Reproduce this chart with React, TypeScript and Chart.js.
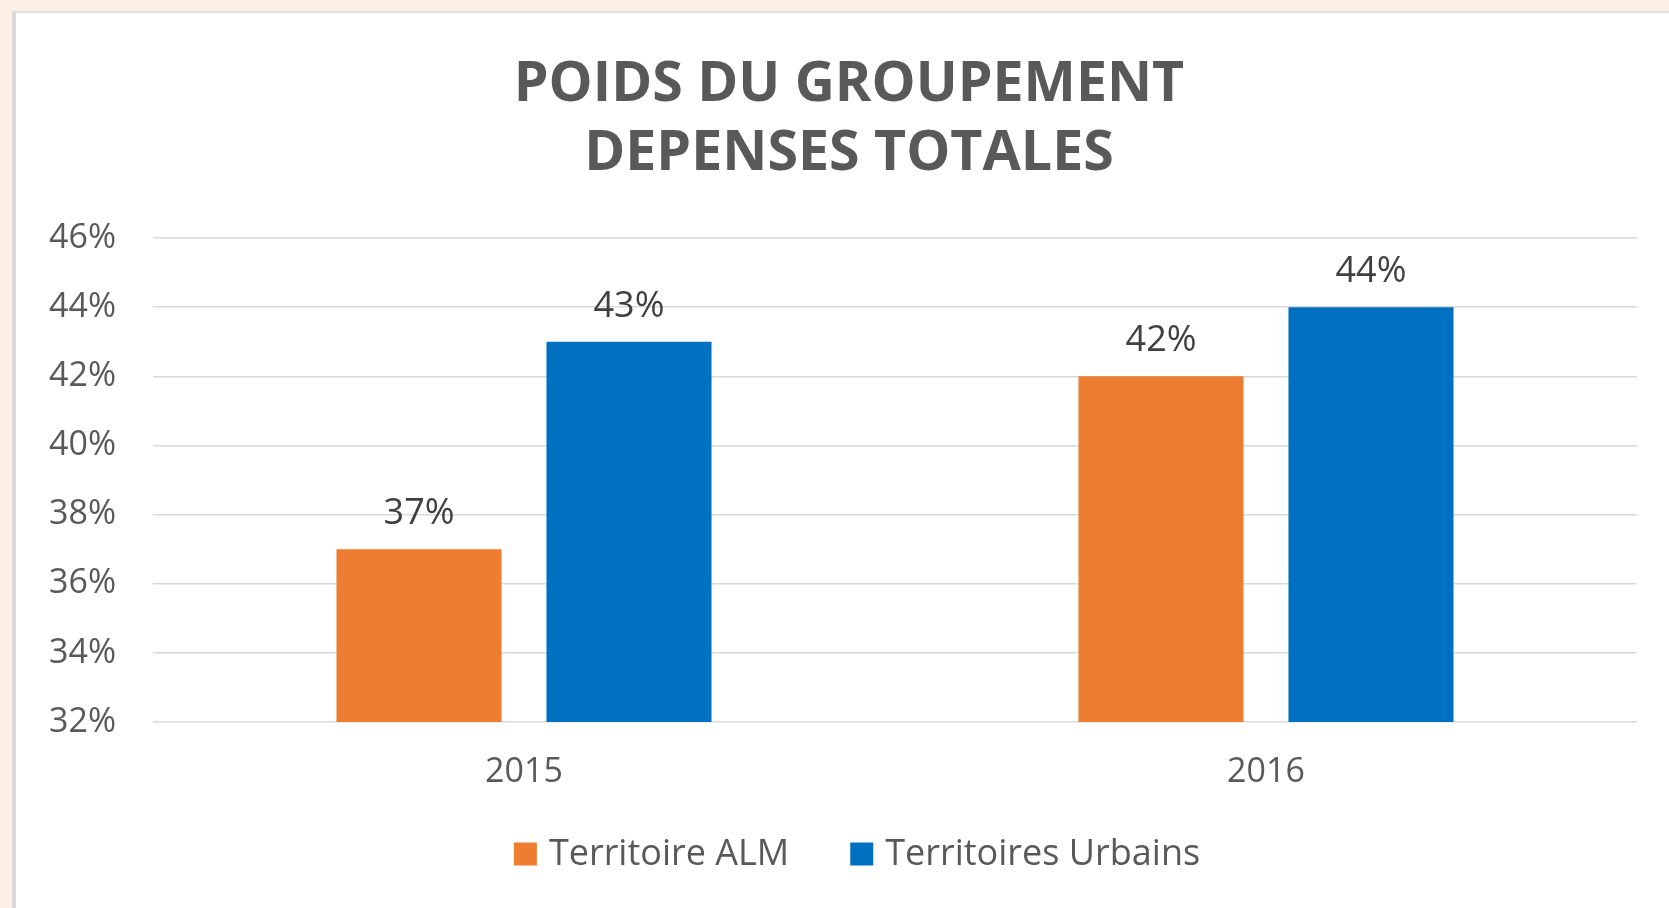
import React, { useEffect, useRef } from "react";
import { Chart, registerables } from "chart.js";

Chart.register(...registerables);

const categories = ["2015", "2016"];
const seriesNames = ["Territoire ALM", "Territoires Urbains"];
const almValues = [37, 42];
const urbainsValues = [43, 44];
const yTicks = [32, 34, 36, 38, 40, 42, 44, 46];
const titleLines = ["POIDS DU GROUPEMENT", "DEPENSES TOTALES"];

const ORANGE = "#ED7D31";
const BLUE = "#0070C0";
const GREY_TEXT = "#595959";

const valueLabelPlugin = {
  id: "valueLabels",
  afterDatasetsDraw(chart: any) {
    const ctx = chart.ctx;
    ctx.save();
    ctx.font = "36px 'Open Sans'";
    ctx.fillStyle = "#404040";
    ctx.textAlign = "center";
    ctx.textBaseline = "alphabetic";
    chart.data.datasets.forEach((ds: any, i: number) => {
      const meta = chart.getDatasetMeta(i);
      meta.data.forEach((el: any, j: number) => {
        ctx.fillText(ds.data[j] + "%", el.x, el.y - 25);
      });
    });
    ctx.restore();
  },
};

const titleShiftPlugin = {
  id: "titleShift",
  afterLayout(chart: any) {
    const tb = chart.titleBlock;
    if (tb) {
      tb.left += 22.5;
      tb.right += 22.5;
    }
  },
};

const legendPlugin = {
  id: "customLegend",
  afterDraw(chart: any) {
    const ctx = chart.ctx;
    ctx.save();
    ctx.font = "36px 'Open Sans'";
    const box = 23;
    const gapText = 12;
    const gapItem = 61;
    const items = chart.data.datasets.map((ds: any) => ({
      label: ds.label,
      color: ds.backgroundColor,
      w: ctx.measureText(ds.label).width,
    }));
    let total = 0;
    items.forEach((it: any, i: number) => {
      total += box + gapText + it.w + (i > 0 ? gapItem : 0);
    });
    let x = chart.width / 2 + 4 - total / 2;
    const cy = 841;
    items.forEach((it: any) => {
      ctx.fillStyle = it.color;
      ctx.fillRect(x, cy - box / 2, box, box);
      ctx.fillStyle = GREY_TEXT;
      ctx.textAlign = "left";
      ctx.textBaseline = "middle";
      ctx.fillText(it.label, x + box + gapText, cy + 1);
      x += box + gapText + it.w + gapItem;
    });
    ctx.restore();
  },
};

export default function App() {
  const canvasRef = useRef<HTMLCanvasElement | null>(null);

  useEffect(() => {
    if (!canvasRef.current) return;
    const chart = new Chart(canvasRef.current, {
      type: "bar",
      data: {
        labels: categories,
        datasets: [
          {
            label: seriesNames[0],
            data: almValues,
            backgroundColor: ORANGE,
            categoryPercentage: 0.566,
            barPercentage: 0.786,
          },
          {
            label: seriesNames[1],
            data: urbainsValues,
            backgroundColor: BLUE,
            categoryPercentage: 0.566,
            barPercentage: 0.786,
          },
        ],
      },
      options: {
        responsive: false,
        animation: false,
        devicePixelRatio: 1,
        layout: { padding: { left: 0, right: 53, top: 0, bottom: 80 } },
        plugins: {
          legend: { display: false },
          tooltip: { enabled: false },
          title: {
            display: true,
            text: titleLines,
            color: GREY_TEXT,
            font: { family: "'Open Sans'", size: 55.5, weight: "bold", lineHeight: 69 / 55.5 },
            padding: { top: 37.5, bottom: 49.5 },
          },
        },
        scales: {
          x: {
            grid: { display: false, drawTicks: false },
            border: { display: false },
            ticks: {
              color: GREY_TEXT,
              font: { family: "'Open Sans'", size: 34 },
              padding: 30,
            },
            afterFit(scale: any) {
              scale.height = 106;
            },
          },
          y: {
            min: yTicks[0],
            max: yTicks[yTicks.length - 1],
            afterBuildTicks(scale: any) {
              scale.ticks = yTicks.map((v) => ({ value: v }));
            },
            grid: { color: "#d9d9d9", lineWidth: 1.5, drawTicks: false },
            border: { display: false },
            ticks: {
              color: GREY_TEXT,
              font: { family: "'Open Sans'", size: 34 },
              padding: 37,
              callback: (v: any) => v + "%",
            },
            afterFit(scale: any) {
              scale.width = 137;
            },
          },
        },
      },
      plugins: [valueLabelPlugin, legendPlugin, titleShiftPlugin],
    });
    return () => chart.destroy();
  }, []);

  return (
    <div
      style={{
        position: "fixed",
        left: 0,
        top: 0,
        width: "100vw",
        height: "100vh",
        overflow: "hidden",
        background: "#FDEFE4",
      }}
    >
      <div
        style={{
          position: "absolute",
          left: 12,
          top: 11,
          width: 1700,
          height: 920,
          background: "#ffffff",
          borderLeft: "4px solid #dadada",
          borderTop: "2px solid #e2e2e2",
        }}
      >
        <canvas ref={canvasRef} width={1674} height={895} style={{ display: "block" }} />
      </div>
    </div>
  );
}
